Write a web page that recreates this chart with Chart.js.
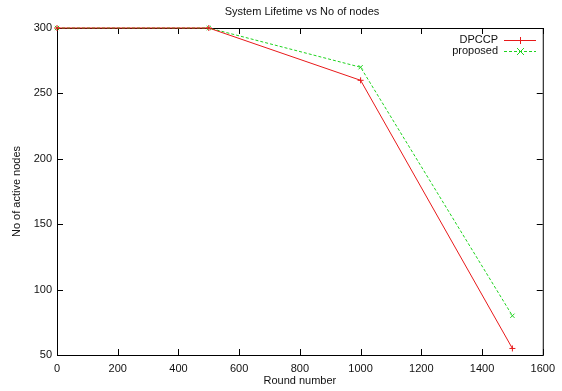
<!DOCTYPE html>
<html lang="en">
<head>
<meta charset="UTF-8">
<title>System Lifetime vs No of nodes</title>
<script src="https://cdn.jsdelivr.net/npm/chart.js"></script>
<style>
  body { margin: 0; background: #fff; }
  #wrap { width: 562px; height: 391px; }
</style>
</head>
<body>
<div id="wrap"><canvas id="grafico" width="562" height="391"></canvas></div>
<script>
// data
const rounds = [0, 500, 1000, 1500];
const dpccp = [300, 300, 260, 55];
const proposed = [300, 300, 270, 80];
const xTicks = [0, 200, 400, 600, 800, 1000, 1200, 1400, 1600];
const yTicks = [50, 100, 150, 200, 250, 300];

const FONT = 'Liberation Sans, Arial, sans-serif';
const RED = '#e8191a';
const GREEN = '#1ed31e';

function pts(ys) {
  return rounds.map((x, i) => ({ x: x, y: ys[i] }));
}

// gnuplot-like frame, inward ticks, title and key
const gnuplotLook = {
  id: 'gnuplotLook',
  beforeDatasetsDraw(chart) {
    const c = chart.ctx;
    const a = chart.chartArea;
    const xs = chart.scales.x, ys = chart.scales.y;
    c.save();
    c.strokeStyle = '#000';
    c.lineWidth = 1;
    c.strokeRect(a.left + 0.5, a.top + 0.5, a.right - a.left, a.bottom - a.top);
    c.beginPath();
    xTicks.forEach(v => {
      const px = Math.round(xs.getPixelForValue(v)) + 0.5;
      c.moveTo(px, a.bottom); c.lineTo(px, a.bottom - 6);
      c.moveTo(px, a.top); c.lineTo(px, a.top + 6);
    });
    yTicks.forEach(v => {
      const py = Math.round(ys.getPixelForValue(v)) + 0.5;
      c.moveTo(a.left, py); c.lineTo(a.left + 6, py);
      c.moveTo(a.right, py); c.lineTo(a.right - 6, py);
    });
    c.stroke();
    c.restore();
  },
  afterDraw(chart) {
    const c = chart.ctx;
    c.save();
    // title
    c.fillStyle = '#111';
    c.font = '11px ' + FONT;
    c.textAlign = 'center';
    c.textBaseline = 'middle';
    c.fillText('System Lifetime vs No of nodes', 302, 12);

    // key
    const items = [
      { label: 'DPCCP', color: RED, dash: [], style: 'plus' },
      { label: 'proposed', color: GREEN, dash: [3, 2], style: 'x' }
    ];
    items.forEach((it, i) => {
      const y = 40 + i * 11;
      c.fillStyle = '#111';
      c.textAlign = 'right';
      c.fillText(it.label, 498, y);
      c.strokeStyle = it.color;
      c.lineWidth = 1;
      c.setLineDash(it.dash);
      c.beginPath();
      c.moveTo(504, y + 0.5); c.lineTo(536, y + 0.5);
      c.stroke();
      c.setLineDash([]);
      c.beginPath();
      if (it.style === 'plus') {
        c.moveTo(520.5, y - 3); c.lineTo(520.5, y + 4);
      } else {
        c.moveTo(517, y - 3); c.lineTo(524, y + 4);
        c.moveTo(524, y - 3); c.lineTo(517, y + 4);
      }
      c.stroke();
    });
    c.restore();
  }
};

const ctx = document.getElementById('grafico').getContext('2d');
new Chart(ctx, {
  type: 'line',
  data: {
    datasets: [
      {
        label: 'DPCCP',
        data: pts(dpccp),
        borderColor: RED,
        borderWidth: 1,
        pointStyle: 'cross',
        pointRadius: 3,
        pointBorderColor: RED,
        pointBorderWidth: 1,
        fill: false,
        tension: 0,
        clip: false
      },
      {
        label: 'proposed',
        data: pts(proposed),
        borderColor: GREEN,
        borderWidth: 1,
        borderDash: [3, 2],
        pointStyle: 'crossRot',
        pointRadius: 3,
        pointBorderColor: GREEN,
        pointBorderWidth: 1,
        fill: false,
        tension: 0,
        clip: false
      }
    ]
  },
  options: {
    responsive: false,
    animation: false,
    layout: { padding: { top: 28, right: 14, left: 0, bottom: 0 } },
    plugins: {
      legend: { display: false },
      title: { display: false },
      tooltip: { enabled: false }
    },
    scales: {
      x: {
        type: 'linear',
        min: 0,
        max: 1600,
        afterBuildTicks: s => { s.ticks = xTicks.map(v => ({ value: v })); },
        afterFit: s => { s.height = 36; },
        grid: { display: false, drawTicks: false },
        border: { display: false },
        ticks: { color: '#111', font: { family: FONT, size: 11 }, padding: 7, maxRotation: 0, callback: v => String(v) },
        title: { display: true, text: 'Round number', color: '#111', font: { family: FONT, size: 11 }, padding: { top: 0, bottom: 3 } }
      },
      y: {
        min: 50,
        max: 300,
        afterBuildTicks: s => { s.ticks = yTicks.map(v => ({ value: v })); },
        afterFit: s => { s.width = 57; },
        grid: { display: false, drawTicks: false },
        border: { display: false },
        ticks: { color: '#111', font: { family: FONT, size: 11 }, padding: 5, callback: v => String(v) },
        title: { display: true, text: 'No of active nodes', color: '#111', font: { family: FONT, size: 11 }, padding: { top: 10, bottom: 0 } }
      }
    }
  },
  plugins: [gnuplotLook]
});
</script>
</body>
</html>
